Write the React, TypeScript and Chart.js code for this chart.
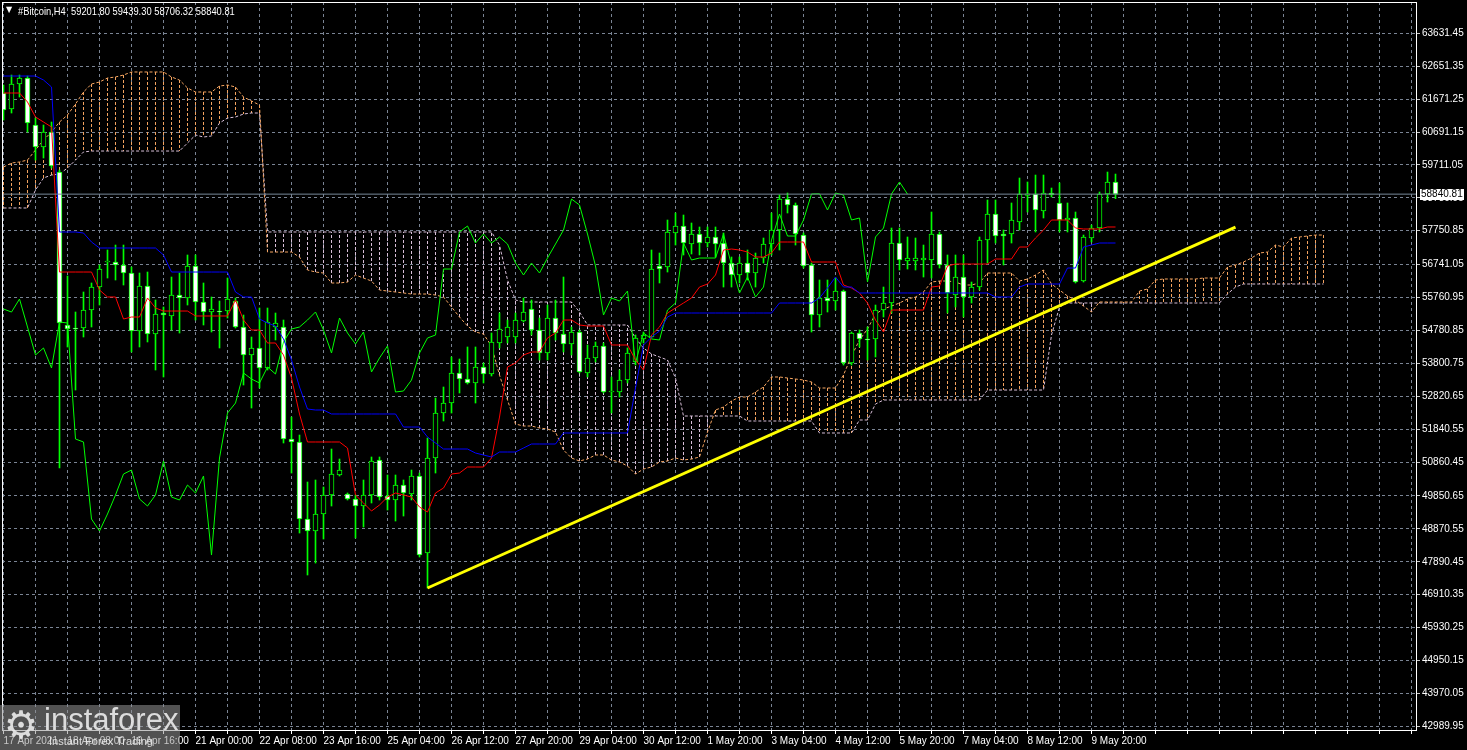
import React, { useEffect, useRef } from "react";
import { Chart, registerables } from "chart.js";

Chart.register(...registerables);

// ---------- DATA ----------
const titleText = "#Bitcoin,H4  59201.80 59439.30 58706.32 58840.81";
const lastPrice = 58840.81;

const xTickLabels = [
  "17 Apr 2021", "18 Apr 08:00", "19 Apr 16:00", "21 Apr 00:00", "22 Apr 08:00", "23 Apr 16:00",
  "25 Apr 04:00", "26 Apr 12:00", "27 Apr 20:00", "29 Apr 04:00", "30 Apr 12:00", "1 May 20:00",
  "3 May 04:00", "4 May 12:00", "5 May 20:00", "7 May 04:00", "8 May 12:00", "9 May 20:00",
];

const yTickValues = [
  63631.45, 62651.35, 61671.25, 60691.15, 59711.05, 58730.95, 57750.85, 56741.05, 55760.95, 54780.85,
  53800.75, 52820.65, 51840.55, 50860.45, 49850.65, 48870.55, 47890.45, 46910.35, 45930.25, 44950.15,
  43970.05, 42989.95,
];

const opens = [
  61853, 61376, 62121, 62300, 60900, 60244, 60691, 59499, 54943, 54853,
  54853, 55389, 56074, 56819, 56819, 56730, 56491, 54764, 56104, 54675,
  55300, 55211, 55836, 55747, 56700, 55628, 55330, 55359, 55359, 55657,
  54883, 54049, 54258, 53662, 54883, 54883, 51547, 51458, 49164, 48806,
  49313, 49879, 50475, 49909, 49760, 49551, 49879, 50921, 49849, 49730,
  50177, 49909, 50445, 48151, 50981, 52321, 52619, 53513, 53334, 53215,
  53692, 53483, 54407, 54585, 54585, 55062, 55419, 54794, 54109, 55151,
  54675, 54377, 54734, 53513, 53960, 54317, 52947, 52947, 53304, 53841,
  54526, 54585, 56700, 56670, 57683, 57891, 57355, 57653, 57385, 57564,
  57385, 56789, 56432, 56789, 56491, 56938, 57355, 57772, 58695, 58517,
  57623, 56730, 55240, 55747, 55657, 55955, 53811, 54704, 54526, 54526,
  55389, 55598, 57385, 56849, 56849, 56879, 56879, 57653, 56730, 55836,
  56372, 55777, 56074, 57474, 58249, 57653, 57653, 58011, 58800, 58845,
  58338, 58874, 58577, 58070, 58130, 56253, 57534, 57832, 58845, 59201.8,
];

const highs = [
  62091, 62389, 62389, 62359, 61108, 60900, 60989, 59559, 56402, 55330,
  55926, 56194, 56730, 57177, 57325, 57325, 56670, 56491, 56521, 55687,
  55479, 56372, 56491, 57028, 57028, 56194, 55777, 55657, 56342, 55747,
  55240, 54585, 55449, 55449, 55300, 55091, 52202, 51666, 50266, 50326,
  50117, 51249, 50951, 49939, 49879, 50326, 51011, 51011, 50475, 50475,
  50326, 50623, 50534, 51577, 52768, 53096, 53990, 53930, 54288, 54288,
  53811, 54704, 55300, 55091, 55300, 55747, 55687, 55151, 55538, 55687,
  56372, 54883, 54794, 54347, 54437, 54407, 53394, 53602, 54258, 54645,
  54734, 57177, 57087, 58070, 58279, 58219, 57981, 57862, 57862, 57862,
  57683, 56968, 56968, 57177, 57087, 57534, 58279, 58815, 58874, 58577,
  57683, 56789, 56283, 56283, 56342, 55985, 54734, 54794, 54883, 55538,
  56074, 57832, 57832, 57564, 57534, 57325, 58308, 57713, 57028, 57028,
  57028, 56223, 57564, 58666, 58666, 57772, 58577, 59321, 59202, 59410,
  59410, 59023, 59172, 58577, 58308, 57623, 57921, 58904, 59499, 59439.3,
];

const lows = [
  61049, 61257, 61734, 60691, 59857, 59917, 59619, 50683, 54288, 53006,
  54585, 54883, 55538, 56342, 56283, 56134, 54139, 54288, 54437, 53602,
  53394, 54794, 54704, 55538, 55091, 54943, 54734, 54258, 55151, 54853,
  53155, 52470, 53066, 53602, 54496, 51428, 50534, 48747, 47496, 47853,
  48568, 49551, 50445, 49730, 48598, 48926, 49641, 49730, 49432, 49104,
  49253, 49730, 48032, 47109, 50534, 52083, 52321, 52917, 53185, 52619,
  53215, 53424, 54258, 54407, 54407, 55032, 54645, 53900, 53900, 54496,
  54139, 54049, 53513, 53394, 53841, 52917, 52321, 52798, 53215, 53751,
  54407, 54556, 56194, 56521, 57325, 57028, 57057, 57028, 57266, 56968,
  56074, 56074, 56194, 56283, 56074, 56789, 57028, 57177, 58279, 57325,
  56640, 54734, 54883, 55330, 55389, 53751, 53751, 54288, 53900, 53990,
  55181, 55300, 56581, 56610, 56581, 56372, 56342, 56640, 55300, 55479,
  55181, 55598, 55985, 56789, 57385, 56730, 57385, 57772, 58308, 57713,
  58130, 58755, 57713, 57713, 56194, 56223, 57415, 57713, 58606, 58706.32,
];

const closes = [
  61347, 62121, 62300, 60959, 60244, 60691, 59678, 55002, 54824, 54823,
  55389, 56074, 56610, 56849, 56730, 56491, 54764, 56104, 54675, 55270,
  55240, 55836, 55747, 56700, 55628, 55330, 55419, 55329, 55717, 54883,
  54049, 54258, 53662, 55032, 55002, 51547, 51458, 49164, 48806, 49313,
  49879, 50504, 50623, 49760, 49551, 49879, 50892, 49819, 49730, 50177,
  49939, 50445, 48091, 50981, 52321, 52619, 53513, 53334, 53215, 53692,
  53483, 54437, 54824, 54883, 55091, 55330, 54794, 54109, 55151, 54704,
  54377, 54734, 53543, 53960, 54317, 52947, 52977, 53304, 54109, 54556,
  54645, 56610, 56610, 57713, 57891, 57385, 57653, 57385, 57564, 57355,
  56789, 56432, 56789, 56491, 56938, 57355, 57772, 58695, 58517, 57653,
  56700, 55240, 55747, 55657, 55955, 53811, 54704, 54526, 54496, 55389,
  55598, 57385, 56879, 56938, 56938, 56938, 57653, 56730, 55896, 56372,
  55777, 56074, 57474, 58249, 57593, 57593, 58070, 58845, 58850, 58368,
  58874, 58815, 58070, 58130, 56223, 57564, 57832, 58845, 59202, 58840.81,
];

// Tenkan-sen (red)
const tenkan = [
  61853, 61853, 61853, 61585, 61138, 60989, 60840, 56521, 56521, 56521,
  56521, 56521, 55985, 55777, 55777, 55121, 55181, 55181, 55747, 55449,
  55359, 55359, 55359, 55359, 55211, 55211, 55211, 55211, 55211, 55687,
  55091, 54794, 54794, 54407, 54407, 54049, 53364, 52292, 51458, 51458,
  51458, 51458, 51458, 51279, 49879, 49641, 49402, 49581, 49819, 49939,
  49879, 49819, 49521, 49372, 49939, 50087, 50504, 50534, 50713, 50713,
  50713, 50981, 52202, 53692, 53811, 54049, 54139, 54139, 54556, 54704,
  55091, 55091, 54943, 54913, 54913, 54913, 54347, 54347, 54347, 53900,
  53602, 54645, 54883, 55300, 55449, 55598, 55747, 56074, 56164, 56432,
  57177, 57206, 57177, 57117, 56968, 56968, 57087, 57415, 57415, 57415,
  57415, 56819, 56819, 56819, 56819, 56134, 56045, 55896, 55598, 55091,
  54734, 55389, 55389, 55389, 55389, 55389, 56074, 56104, 56700, 56759,
  56759, 56759, 56759, 56759, 56908, 56908, 56908, 57266, 57266, 57534,
  57772, 58070, 58070, 58070, 57832, 57802, 57802, 57802, 57862, 57862,
];

// Kijun-sen (blue)
const kijun = [
  62359, 62359, 62359, 62359, 62359, 62240, 62032, 57713, 57713, 57713,
  57683, 57415, 57236, 57236, 57236, 57236, 57236, 57236, 57236, 57236,
  57028, 56521, 56521, 56521, 56521, 56521, 56521, 56521, 56521, 55926,
  55777, 55777, 55121, 55002, 54913, 54526, 53900, 53096, 52440, 52411,
  52411, 52292, 52292, 52292, 52292, 52292, 52292, 52292, 52292, 52292,
  51904, 51904, 51904, 51607, 51428, 51249, 51249, 51249, 51249, 51130,
  51071, 51011, 51160, 51160, 51160, 51279, 51398, 51398, 51398, 51398,
  51726, 51726, 51726, 51726, 51726, 51726, 51726, 51726, 51726, 53066,
  54347, 54585, 54764, 55181, 55300, 55300, 55300, 55300, 55300, 55300,
  55300, 55300, 55300, 55300, 55300, 55300, 55300, 55598, 55598, 55598,
  55598, 55598, 55747, 56045, 56372, 56074, 56074, 55896, 55896, 55896,
  55896, 55896, 55896, 55896, 55896, 55896, 55896, 55896, 55896, 55896,
  55896, 55896, 55896, 55896, 55777, 55777, 55777, 56074, 56164, 56164,
  56164, 56164, 56164, 56640, 56640, 57266, 57325, 57385, 57385, 57385,
];

// Chikou span (green), plotted from bar 0
const chikou = [
  55419, 55329, 55717, 54883, 54049, 54258, 53662, 55032, 55002, 51547,
  51458, 49164, 48806, 49313, 49879, 50504, 50623, 49760, 49551, 49879,
  50892, 49819, 49730, 50177, 49939, 50445, 48091, 50981, 52321, 52619,
  53513, 53334, 53215, 53692, 53483, 54437, 54824, 54883, 55091, 55330,
  54794, 54109, 55151, 54704, 54377, 54734, 53543, 53960, 54317, 52947,
  52977, 53304, 54109, 54556, 54645, 56610, 56610, 57713, 57891, 57385,
  57653, 57385, 57564, 57355, 56789, 56432, 56789, 56491, 56938, 57355,
  57772, 58695, 58517, 57653, 56700, 55240, 55747, 55657, 55955, 53811,
  54704, 54526, 54496, 55389, 55598, 57385, 56879, 56938, 56938, 56938,
  57653, 56730, 55896, 56372, 55777, 56074, 57474, 58249, 57593, 57593,
  58070, 58845, 58850, 58368, 58874, 58815, 58070, 58130, 56223, 57564,
  57832, 58845, 59202, 58840.81,
];

// Senkou span A (sandy brown)
const spanA = [
  59649, 59768, 59798, 59857, 60155, 60453, 60691, 60989, 61198, 61525,
  61883, 62121, 62181, 62300, 62330, 62389, 62479, 62479, 62479, 62479,
  62479, 62330, 62240, 62002, 61883, 61883, 61883, 62061, 62091, 62032,
  61734, 61615, 61496, 57117, 57117, 57117, 57117, 56968, 56581, 56521,
  56491, 56194, 56194, 56223, 56432, 56342, 56253, 55985, 55955, 55926,
  55896, 55866, 55866, 55866, 55836, 55777, 55479, 55181, 54913, 54734,
  54675, 54317, 53453, 52709, 51994, 51934, 51934, 51875, 51845, 51755,
  51219, 50981, 50892, 50951, 51071, 51071, 50921, 50862, 50743, 50504,
  50653, 50713, 50862, 50892, 50981, 50921, 50951, 51011, 51755, 52411,
  52500, 52679, 52798, 52798, 52947, 53096, 53394, 53394, 53364, 53334,
  53304, 53245, 53066, 53066, 53066, 53453, 54019, 54496, 54824, 55270,
  55419, 55508, 55598, 55717, 55777, 55926, 56223, 56253, 56253, 56223,
  56134, 56134, 56194, 56491, 56491, 56491, 56491, 56253, 56313, 56432,
  56581, 56164, 55985, 55806, 55687, 55508, 55330, 55628, 55628, 55628,
  55628, 55628, 55955, 56015, 56283, 56313, 56313, 56313, 56313, 56313,
  56342, 56342, 56342, 56670, 56730, 56819, 56938, 57087, 57117, 57325,
  57266, 57534, 57564, 57593, 57623, 57623,
];

// Senkou span B (thistle)
const spanB = [
  58428, 58428, 58428, 58428, 58964, 59321, 59410, 59440, 59619, 59857,
  60096, 60125, 60125, 60125, 60125, 60125, 60125, 60125, 60125, 60125,
  60125, 60125, 60125, 60364, 60602, 60542, 60572, 60959, 61108, 61138,
  61227, 61257, 61257, 57713, 57713, 57713, 57713, 57713, 57713, 57713,
  57713, 57713, 57713, 57713, 57713, 57713, 57713, 57713, 57713, 57713,
  57713, 57713, 57713, 57713, 57713, 57713, 57713, 57713, 57713, 57713,
  57713, 57713, 57325, 56283, 55687, 55628, 55628, 55628, 55628, 55628,
  55628, 55628, 55330, 54943, 54943, 54943, 54943, 54943, 54943, 54556,
  54258, 54079, 53990, 53900, 53364, 52232, 52232, 52232, 52232, 52232,
  52232, 52232, 52232, 52083, 52083, 52083, 52083, 52083, 52083, 52083,
  52083, 52083, 51726, 51726, 51726, 51726, 51726, 52113, 52113, 52589,
  52709, 52709, 52709, 52709, 52709, 52709, 52709, 52709, 52709, 52709,
  52709, 52709, 52709, 53006, 53006, 53006, 53006, 53006, 53006, 53006,
  53006, 54645, 55479, 55598, 55598, 55598, 55598, 55598, 55598, 55598,
  55598, 55598, 55598, 55598, 55598, 55598, 55598, 55598, 55598, 55598,
  55598, 55598, 55598, 55866, 56074, 56164, 56164, 56164, 56164, 56164,
  56164, 56164, 56164, 56164, 56164, 56164,
];

// user-drawn yellow trend line (bar index, price)
const trendX = [53, 154];
const trendY = [47109, 57860];

// ---------- STYLE ----------
const FONT = "'Liberation Sans', Arial, sans-serif";
const AXIS_FONT_SIZE = 10;
const GRID = "#7a8494";
const LIME = "#00ff00";
const X_MIN = -0.1875;
const X_MAX = 176.5625;
const Y_MIN = 42879.5;
const Y_MAX = 64563.7;

export default function App() {
  const canvasRef = useRef<HTMLCanvasElement | null>(null);

  useEffect(() => {
    document.body.style.margin = "0";
    document.body.style.background = "#000";
    const canvas = canvasRef.current;
    if (!canvas) return;

    const idx = closes.map((_, i) => i);
    const wickData = idx.map((i) => ({ x: i, y: [lows[i], highs[i]] }));
    const bodyData = idx.map((i) => ({ x: i, y: [opens[i], closes[i]] }));
    const bodyColors = idx.map((i) => (closes[i] > opens[i] ? "#000000" : "#ffffff"));

    const cloudUp: any[] = [];
    const cloudDown: any[] = [];
    spanA.forEach((a, j) => {
      const b = spanB[j];
      const target = a >= b ? cloudUp : cloudDown;
      target.push({ x: j, y: a }, { x: j, y: b }, { x: j, y: null });
    });

    const toXY = (arr: number[]) => arr.map((v, i) => ({ x: i, y: v }));

    const framePlugin = {
      id: "frame",
      afterDatasetsDraw(chart: any) {
        const { ctx, chartArea: a } = chart;
        ctx.save();
        ctx.strokeStyle = "#ffffff";
        ctx.lineWidth = 1;
        ctx.strokeRect(a.left + 0.5, a.top + 0.5, a.right - a.left, a.bottom - a.top);
        ctx.restore();
      },
    };

    const priceLabelPlugin = {
      id: "priceLabel",
      afterDraw(chart: any) {
        const { ctx, chartArea: a } = chart;
        const y = chart.scales.y.getPixelForValue(lastPrice);
        ctx.save();
        ctx.fillStyle = "#ffffff";
        ctx.fillRect(a.right + 4, Math.round(y) - 5, 44, 11);
        ctx.fillStyle = "#000000";
        ctx.font = `${AXIS_FONT_SIZE}px ${FONT}`;
        ctx.textBaseline = "middle";
        ctx.textAlign = "left";
        ctx.fillText(lastPrice.toFixed(2), a.right + 5, Math.round(y) + 0.5);
        ctx.restore();
      },
    };

    const lineBase = {
      type: "line" as const,
      pointRadius: 0,
      pointHoverRadius: 0,
      borderWidth: 1,
      tension: 0,
      fill: false,
      spanGaps: false,
    };

    const chart = new Chart(canvas, {
      type: "bar",
      data: {
        datasets: [
          { ...lineBase, label: "cloudUp", data: cloudUp, borderColor: "#f4a460", borderDash: [3, 2], order: 10 },
          { ...lineBase, label: "cloudDown", data: cloudDown, borderColor: "#d8bfd8", borderDash: [3, 2], order: 10 },
          { ...lineBase, label: "spanA", data: toXY(spanA), borderColor: "#f4a460", borderDash: [3, 2], order: 9 },
          { ...lineBase, label: "spanB", data: toXY(spanB), borderColor: "#d8bfd8", borderDash: [3, 2], order: 9 },
          {
            type: "bar", label: "wicks", data: wickData as any, backgroundColor: LIME, borderWidth: 0,
            barThickness: 1, grouped: false, order: 7,
          },
          {
            type: "bar", label: "bodies", data: bodyData as any, backgroundColor: bodyColors, borderColor: LIME,
            borderWidth: 1, borderSkipped: false, barThickness: 5, grouped: false, order: 6,
          },
          { ...lineBase, label: "chikou", data: toXY(chikou), borderColor: LIME, order: 4 },
          { ...lineBase, label: "kijun", data: toXY(kijun), borderColor: "#0000ff", order: 3 },
          { ...lineBase, label: "tenkan", data: toXY(tenkan), borderColor: "#ff0000", order: 3 },
          {
            ...lineBase, label: "price", data: [{ x: X_MIN, y: lastPrice }, { x: X_MAX, y: lastPrice }],
            borderColor: "#778899", order: 2,
          },
          {
            ...lineBase, label: "trend", data: trendX.map((x, i) => ({ x, y: trendY[i] })),
            borderColor: "#ffff00", borderWidth: 3, order: 1,
          },
        ] as any,
      },
      options: {
        responsive: false,
        maintainAspectRatio: false,
        devicePixelRatio: 1,
        animation: false,
        events: [],
        layout: { padding: { left: 2, top: 2, right: 0, bottom: 0 } },
        plugins: {
          legend: { display: false },
          tooltip: { enabled: false },
          title: { display: false },
        },
        scales: {
          x: {
            type: "linear",
            position: "bottom",
            min: X_MIN,
            max: X_MAX,
            offset: false,
            afterBuildTicks: (scale: any) => {
              const t: any[] = [];
              for (let v = 0; v <= 176; v += 4) t.push({ value: v });
              scale.ticks = t;
            },
            afterFit: (scale: any) => {
              scale.height = 20;
              scale.paddingLeft = 0;
              scale.paddingRight = 0;
            },
            grid: {
              color: GRID,
              lineWidth: 1,
              offset: false,
              drawTicks: true,
              tickLength: 4,
              tickColor: "#ffffff",
            },
            border: { display: false, dash: [3, 3] },
            ticks: {
              color: "#ffffff",
              font: { family: FONT, size: AXIS_FONT_SIZE },
              align: "start",
              padding: 1,
              autoSkip: false,
              maxRotation: 0,
              minRotation: 0,
              callback: (value: any) => {
                const v = Number(value);
                if (v % 8 !== 0) return "";
                const k = v / 8;
                return k < xTickLabels.length ? xTickLabels[k] : "";
              },
            },
          },
          y: {
            type: "linear",
            position: "right",
            min: Y_MIN,
            max: Y_MAX,
            beginAtZero: false,
            afterBuildTicks: (scale: any) => {
              scale.ticks = yTickValues.map((v) => ({ value: v }));
            },
            afterFit: (scale: any) => {
              scale.width = 51;
              scale.paddingTop = 0;
              scale.paddingBottom = 0;
            },
            grid: {
              color: GRID,
              lineWidth: 1,
              drawTicks: true,
              tickLength: 4,
              tickColor: "#c8c8c8",
            },
            border: { display: false, dash: [3, 3] },
            ticks: {
              color: "#ffffff",
              font: { family: FONT, size: AXIS_FONT_SIZE },
              crossAlign: "near",
              padding: 2,
              autoSkip: false,
              callback: (value: any) => Number(value).toFixed(2),
            },
          },
        },
      } as any,
      plugins: [framePlugin, priceLabelPlugin],
    });

    return () => chart.destroy();
  }, []);

  return (
    <div style={{ position: "relative", width: 1467, height: 750, background: "#000", overflow: "hidden" }}>
      <canvas ref={canvasRef} width={1467} height={750} style={{ display: "block", width: 1467, height: 750 }} />
      <div
        style={{
          position: "absolute", left: 6, top: 5, color: "#fff",
          fontFamily: "'DejaVu Sans', sans-serif", fontSize: 8, lineHeight: "10px",
        }}
      >
        ▼
      </div>
      <div
        style={{
          position: "absolute", left: 18, top: 4, color: "#fff", fontFamily: FONT,
          fontSize: 11, lineHeight: "14px", whiteSpace: "pre",
          transform: "scaleX(0.85)", transformOrigin: "0 0",
        }}
      >
        {titleText}
      </div>
      <div
        style={{
          position: "absolute", left: 0, top: 705, width: 180, height: 45,
          background: "rgba(150,150,150,0.55)",
        }}
      >
        <div
          style={{
            position: "absolute", left: 4, top: -2, color: "rgba(235,235,235,0.9)",
            fontFamily: "'DejaVu Sans', sans-serif", fontSize: 38, lineHeight: "44px",
          }}
        >
          ⚙
        </div>
        <div
          style={{
            position: "absolute", left: 44, top: -4, color: "rgba(235,235,235,0.9)",
            fontFamily: "'Liberation Sans', Arial, sans-serif", fontSize: 31, lineHeight: "38px",
          }}
        >
          instaforex
        </div>
        <div
          style={{
            position: "absolute", left: 49, top: 30, color: "rgba(235,235,235,0.9)",
            fontFamily: "'Liberation Sans', Arial, sans-serif", fontSize: 11, lineHeight: "13px",
            whiteSpace: "pre",
          }}
        >
          Instant Forex Trading
        </div>
      </div>
    </div>
  );
}
